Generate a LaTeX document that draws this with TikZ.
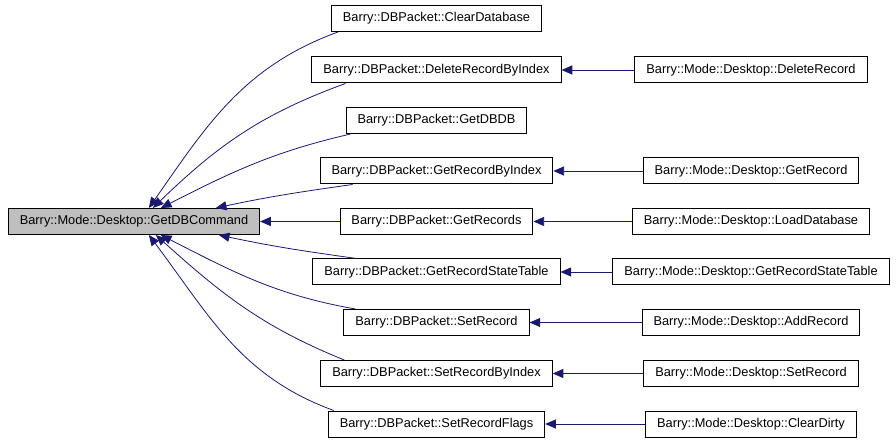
\documentclass[tikz,border=0pt]{standalone}
\usepackage{fontspec}
\setmainfont{Liberation Sans}
\usetikzlibrary{arrows.meta,calc}

\definecolor{blu}{RGB}{25,25,112}
\definecolor{grigio}{RGB}{191,191,191}

\tikzset{
  funz/.style={draw, line width=0.75pt, fill=white, minimum height=19.5pt,
    inner xsep=8.6pt, inner ysep=0pt, font=\fontsize{9.6}{11}\selectfont},
  radice/.style={funz, fill=grigio},
  chiamata/.style={draw=blu, line width=0.6pt, {Triangle[length=8pt,width=6.8pt,fill=blu]}-},
}

\begin{document}
\begin{tikzpicture}[x=0.75pt, y=0.75pt]
    % parametri
    \def\xm{436.5}
    \def\xr{751}
    \useasboundingbox (0,0) rectangle (896,443);

    % nodo radice
    \node[radice] (root) at (134,221.5) {Barry::Mode::Desktop::GetDBCommand};

    % colonna centrale
    \node[funz] (cleardb) at (\xm,424.5) {Barry::DBPacket::ClearDatabase};
    \node[funz] (delbyidx) at (\xm,373) {Barry::DBPacket::DeleteRecordByIndex};
    \node[funz] (getdbdb) at (\xm,322.5) {Barry::DBPacket::GetDBDB};
    \node[funz] (getbyidx) at (\xm,272) {Barry::DBPacket::GetRecordByIndex};
    \node[funz] (getrecs) at (\xm,221.5) {Barry::DBPacket::GetRecords};
    \node[funz] (getstate) at (\xm,171) {Barry::DBPacket::GetRecordStateTable};
    \node[funz] (setrec) at (\xm,120.5) {Barry::DBPacket::SetRecord};
    \node[funz] (setbyidx) at (\xm,69.5) {Barry::DBPacket::SetRecordByIndex};
    \node[funz] (setflags) at (\xm,19) {Barry::DBPacket::SetRecordFlags};

    % colonna destra
    \node[funz] (dkdel) at (\xr,373) {Barry::Mode::Desktop::DeleteRecord};
    \node[funz] (dkget) at (\xr,272) {Barry::Mode::Desktop::GetRecord};
    \node[funz] (dkload) at (\xr,221.5) {Barry::Mode::Desktop::LoadDatabase};
    \node[funz] (dkstate) at (\xr,171) {Barry::Mode::Desktop::GetRecordStateTable};
    \node[funz] (dkadd) at (\xr,120.5) {Barry::Mode::Desktop::AddRecord};
    \node[funz] (dkset) at (\xr,69.5) {Barry::Mode::Desktop::SetRecord};
    \node[funz] (dkdirty) at (\xr,19) {Barry::Mode::Desktop::ClearDirty};

    % chiamate verso la radice
    \draw[chiamata] ($(root.north west)+(141,0)$) to[out=55,in=200] ($(cleardb.south west)+(7,0)$);
    \draw[chiamata] ($(root.north west)+(145,0)$) to[out=44,in=200] ($(delbyidx.south west)+(34,0)$);
    \draw[chiamata] ($(root.north west)+(153,0)$) to[out=27,in=193] ($(getdbdb.south west)+(5,0)$);
    \draw[chiamata] ($(root.north west)+(208,0)$) to[out=12,in=188] ($(getbyidx.south west)+(33,0)$);
    \draw[chiamata] (root.east) -- (getrecs.west);
    \draw[chiamata] ($(root.south west)+(211,0)$) to[out=-12,in=172] ($(getstate.north west)+(44,0)$);
    \draw[chiamata] ($(root.south west)+(153,0)$) to[out=-27,in=170] ($(setrec.north west)+(12,0)$);
    \draw[chiamata] ($(root.south west)+(148,0)$) to[out=-42,in=158] ($(setbyidx.north west)+(24,0)$);
    \draw[chiamata] ($(root.south west)+(141,0)$) to[out=-53,in=160] ($(setflags.north west)+(6,0)$);

    % chiamate dalla colonna destra
    \draw[chiamata] (delbyidx.east) -- (dkdel.west);
    \draw[chiamata] (getbyidx.east) -- (dkget.west);
    \draw[chiamata] (getrecs.east) -- (dkload.west);
    \draw[chiamata] (getstate.east) -- (dkstate.west);
    \draw[chiamata] (setrec.east) -- (dkadd.west);
    \draw[chiamata] (setbyidx.east) -- (dkset.west);
    \draw[chiamata] (setflags.east) -- (dkdirty.west);
\end{tikzpicture}
\end{document}
